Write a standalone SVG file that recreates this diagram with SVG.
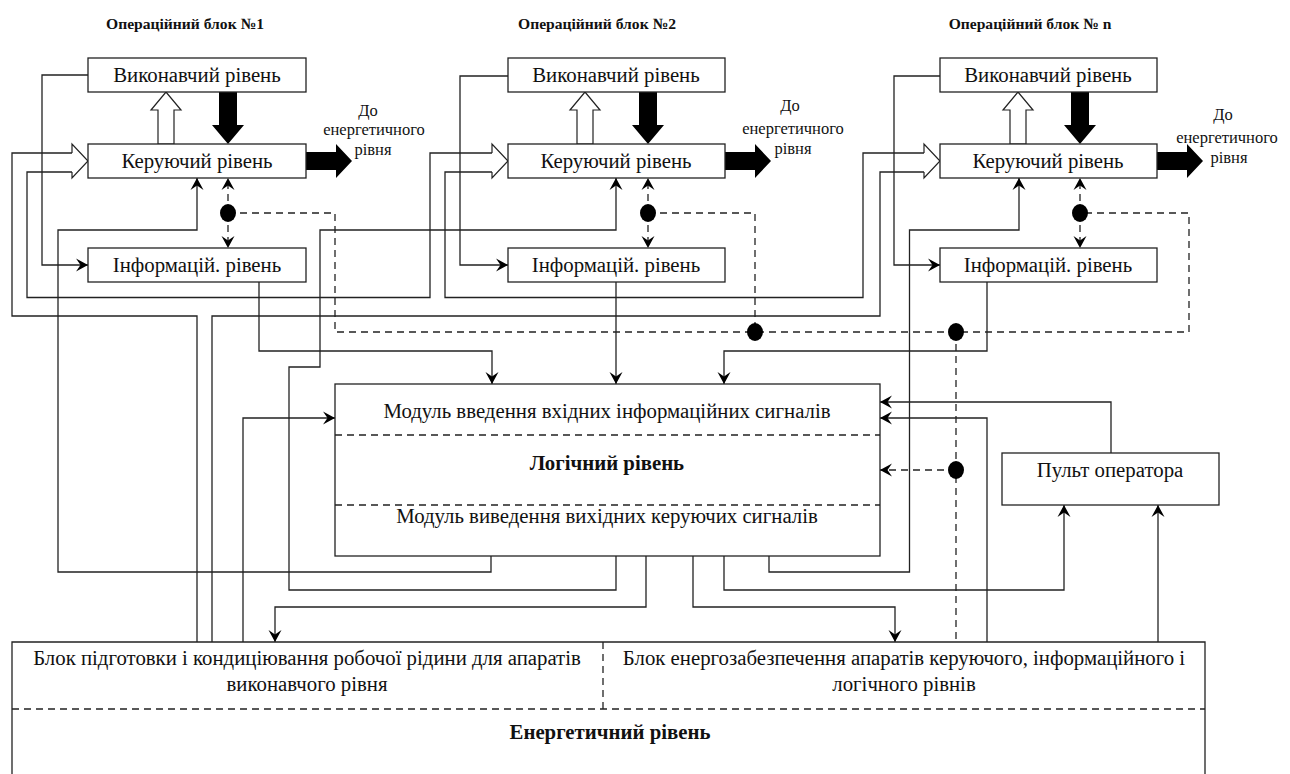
<svg xmlns="http://www.w3.org/2000/svg" width="1290" height="774" viewBox="0 0 1290 774" font-family="Liberation Serif, serif">
<style>
.ln{fill:none;stroke:#222;stroke-width:1.3}
.ds{fill:none;stroke:#222;stroke-width:1.3;stroke-dasharray:7 5}
.box{fill:#fff;stroke:#222;stroke-width:1.3}
.hol{fill:#fff;stroke:#222;stroke-width:1.2}
.blk{fill:#000;stroke:none}
.dot{fill:#000}
text{font-family:Liberation Serif, serif;fill:#111;text-anchor:middle}
.t{font-size:20.8px}
.b{font-size:20.8px;font-weight:bold}
.h{font-size:15.6px;font-weight:bold}
.s{font-size:16.5px}
</style>
<defs>
<marker id="ah" markerUnits="userSpaceOnUse" markerWidth="14" markerHeight="14" viewBox="-13 -7 14 14" refX="0" refY="0" orient="auto">
<path d="M0,0 L-12,-6.5 L-7.5,0 L-12,6.5 Z" fill="#000"/>
</marker>
</defs>

<g id="titles">
<text class="h" x="185" y="29">Операційний блок №1</text>
<text class="h" x="597" y="29">Операційний блок №2</text>
<text class="h" x="1030" y="29">Операційний блок № n</text>
</g>

<g id="connectors">
<polygon class="hol" points="158,144 158,110 151,110 166,92 181,110 174,110 174,144"/>
<polygon class="blk" points="219,92 237,92 237,125 244,125 228,144 212,125 219,125"/>
<polygon class="blk" points="306,152 336,152 336,144 352,161 336,178 336,170 306,170"/>
<polygon class="hol" points="577,144 577,110 570,110 585,92 600,110 593,110 593,144"/>
<polygon class="blk" points="639,92 657,92 657,125 664,125 648,144 632,125 639,125"/>
<polygon class="blk" points="725,152 755,152 755,144 771,161 755,178 755,170 725,170"/>
<polygon class="hol" points="1010,144 1010,110 1003,110 1018,92 1033,110 1026,110 1026,144"/>
<polygon class="blk" points="1071,92 1089,92 1089,125 1096,125 1080,144 1064,125 1071,125"/>
<polygon class="blk" points="1157,152 1187,152 1187,144 1203,161 1187,178 1187,170 1157,170"/>

<polyline class="hol" points="72,153 72,144 88,161 72,178 72,172"/>
<polyline class="hol" points="492,153 492,144 508,161 492,178 492,172"/>
<polyline class="hol" points="924,153 924,144 940,161 924,178 924,172"/>

<path class="ln" d="M88,75 H42 V265 H88" marker-end="url(#ah)"/>
<path class="ln" d="M508,76 H460 V265 H508" marker-end="url(#ah)"/>
<path class="ln" d="M940,76 H894 V265 H940" marker-end="url(#ah)"/>

<path class="ln" d="M197,642 V316 H12 V153 H72"/>
<path class="ln" d="M72,172 H27 V297.5 H430 V153 H492"/>
<path class="ln" d="M492,172 H445 V297.5 H863 V153 H924"/>
<path class="ln" d="M924,172 H880 V316 H212 V642"/>

<path class="ln" d="M491,556 V572 H58 V230 H197 V178" marker-end="url(#ah)"/>
<path class="ln" d="M616,556 V590 H289 V367 H320 V230 H616 V178" marker-end="url(#ah)"/>
<path class="ln" d="M769,556 V572 H909.5 V230 H1019 V178" marker-end="url(#ah)"/>

<path class="ln" d="M259,282 V351 H492 V384" marker-end="url(#ah)"/>
<path class="ln" d="M616,282 V384" marker-end="url(#ah)"/>
<path class="ln" d="M987,282 V351 H724 V384" marker-end="url(#ah)"/>

<path class="ln" d="M646,556 V607 H275 V642" marker-end="url(#ah)"/>
<path class="ln" d="M693,556 V607 H895 V642" marker-end="url(#ah)"/>
<path class="ln" d="M724,556 V590 H1064 V505" marker-end="url(#ah)"/>

<path class="ln" d="M243,642 V418 H335" marker-end="url(#ah)"/>
<path class="ln" d="M987,642 V418 H880" marker-end="url(#ah)"/>
<path class="ln" d="M1111,453 V402 H880" marker-end="url(#ah)"/>
<path class="ln" d="M1158,642 V505" marker-end="url(#ah)"/>

<path class="ds" d="M228,213 V178" marker-end="url(#ah)"/>
<path class="ds" d="M228,213 V248" marker-end="url(#ah)"/>
<path class="ds" d="M648,213 V178" marker-end="url(#ah)"/>
<path class="ds" d="M648,213 V248" marker-end="url(#ah)"/>
<path class="ds" d="M1080,213 V178" marker-end="url(#ah)"/>
<path class="ds" d="M1080,213 V248" marker-end="url(#ah)"/>
<path class="ds" d="M228,213 H335 V332 H1189 V213 H1080"/>
<path class="ds" d="M648,213 H755 V332"/>
<path class="ds" d="M956,332 V642"/>
<path class="ds" d="M956,470 H880" marker-end="url(#ah)"/>
<ellipse class="dot" cx="228" cy="213" rx="8" ry="9"/>
<ellipse class="dot" cx="648" cy="213" rx="8" ry="9"/>
<ellipse class="dot" cx="1080" cy="213" rx="8" ry="9"/>
<ellipse class="dot" cx="755" cy="332" rx="8" ry="9"/>
<ellipse class="dot" cx="956" cy="332" rx="8" ry="9"/>
<ellipse class="dot" cx="956" cy="470" rx="8" ry="9"/>

<text class="s" x="368" y="116">До</text>
<text class="s" x="374" y="135">енергетичного</text>
<text class="s" x="373" y="155">рівня</text>
<text class="s" x="790" y="111">До</text>
<text class="s" x="793" y="134">енергетичного</text>
<text class="s" x="793" y="154">рівня</text>
<text class="s" x="1223" y="120">До</text>
<text class="s" x="1227" y="143">енергетичного</text>
<text class="s" x="1229" y="163">рівня</text>
</g>

<g id="b1-exec"><rect class="box" x="88" y="58" width="218" height="34"/><text class="t" x="197" y="82">Виконавчий рівень</text></g>
<g id="b1-ctrl"><rect class="box" x="88" y="144" width="218" height="34"/><text class="t" x="197" y="168">Керуючий рівень</text></g>
<g id="b1-info"><rect class="box" x="88" y="248" width="218" height="34"/><text class="t" x="197" y="272">Інформацій. рівень</text></g>

<g id="b2-exec"><rect class="box" x="508" y="58" width="217" height="34"/><text class="t" x="616" y="82">Виконавчий рівень</text></g>
<g id="b2-ctrl"><rect class="box" x="508" y="144" width="217" height="34"/><text class="t" x="616" y="168">Керуючий рівень</text></g>
<g id="b2-info"><rect class="box" x="508" y="248" width="217" height="34"/><text class="t" x="616" y="272">Інформацій. рівень</text></g>

<g id="bn-exec"><rect class="box" x="940" y="58" width="217" height="34"/><text class="t" x="1048" y="82">Виконавчий рівень</text></g>
<g id="bn-ctrl"><rect class="box" x="940" y="144" width="217" height="34"/><text class="t" x="1048" y="168">Керуючий рівень</text></g>
<g id="bn-info"><rect class="box" x="940" y="248" width="217" height="34"/><text class="t" x="1048" y="272">Інформацій. рівень</text></g>

<g id="logic">
<rect class="box" x="335" y="384" width="545" height="172"/>
<line class="ds" x1="335" y1="435" x2="880" y2="435"/>
<line class="ds" x1="335" y1="505" x2="880" y2="505"/>
<text class="t" x="607" y="418">Модуль введення вхідних інформаційних сигналів</text>
<text class="b" x="607" y="470">Логічний рівень</text>
<text class="t" x="607" y="523">Модуль виведення вихідних керуючих сигналів</text>
</g>

<g id="console">
<rect class="box" x="1002" y="453" width="217" height="52"/>
<text class="t" x="1110" y="477">Пульт оператора</text>
</g>

<g id="energy">
<path class="box" d="M12,780 V642 H1205 V780"/>
<line class="ds" x1="12" y1="709" x2="1205" y2="709"/>
<line class="ds" x1="603" y1="642" x2="603" y2="709"/>
<text class="t" x="307" y="665">Блок підготовки і кондиціювання робочої рідини для апаратів</text>
<text class="t" x="307" y="691">виконавчого рівня</text>
<text class="t" x="904" y="665">Блок енергозабезпечення апаратів керуючого, інформаційного і</text>
<text class="t" x="904" y="691">логічного рівнів</text>
<text class="b" x="610" y="739">Енергетичний рівень</text>
</g>
</svg>
